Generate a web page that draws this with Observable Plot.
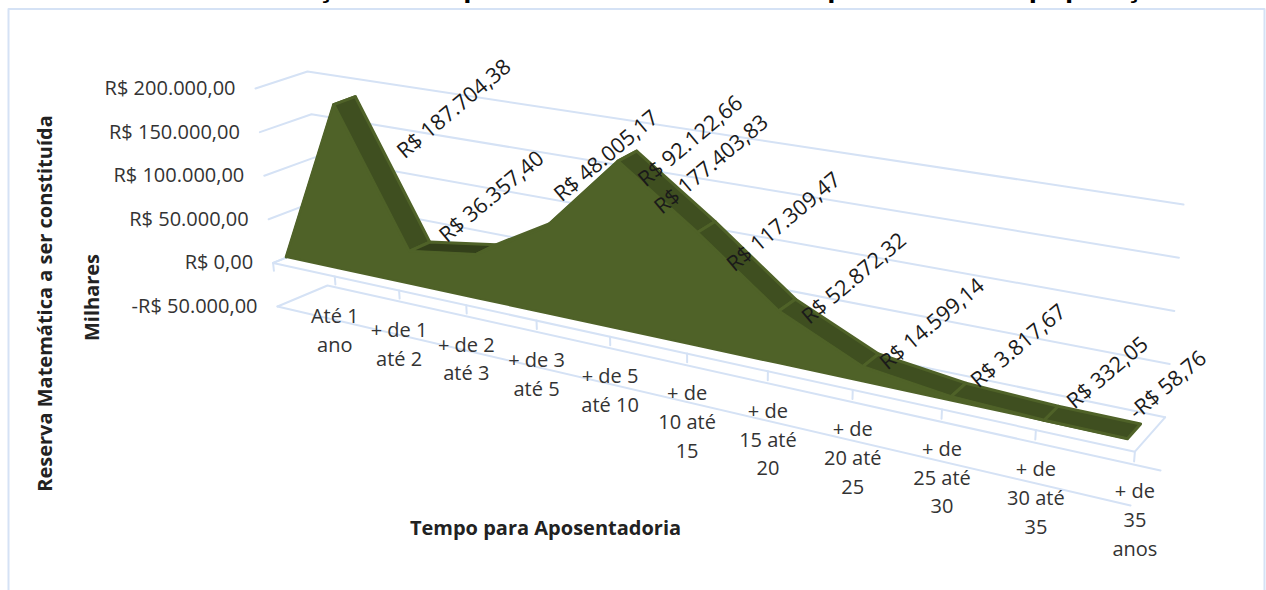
<!DOCTYPE html>
<html lang="pt-BR">
<head>
<meta charset="utf-8">
<style>html,body{margin:0;padding:0;background:#fff;overflow:hidden}svg{display:block}</style>
<script src="https://cdn.jsdelivr.net/npm/d3@7"></script>
<script src="https://cdn.jsdelivr.net/npm/@observablehq/plot@0.6"></script>
</head>
<body>
<div id="chart"></div>
<script>
const categories = ["Até 1\nano","+ de 1\naté 2","+ de 2\naté 3","+ de 3\naté 5","+ de 5\naté 10","+ de\n10 até\n15","+ de\n15 até\n20","+ de\n20 até\n25","+ de\n25 até\n30","+ de\n30 até\n35","+ de\n35\nanos"];
const reserva = [187704.38,36357.40,48005.17,92122.66,177403.83,117309.47,52872.32,14599.14,3817.67,332.05,-58.76];
const dataLabels = ["R$ 187.704,38","R$ 36.357,40","R$ 48.005,17","R$ 92.122,66","R$ 177.403,83","R$ 117.309,47","R$ 52.872,32","R$ 14.599,14","R$ 3.817,67","R$ 332,05","-R$ 58,76"];
const axisValues = [200000,150000,100000,50000,0,-50000];
const axisLabels = ["R$ 200.000,00","R$ 150.000,00","R$ 100.000,00","R$ 50.000,00","R$ 0,00","-R$ 50.000,00"];
const labelNudge = [[120,4],[82,-55],[130,-99],[145,-87],[93,3],[86,-11],[75,-33],[69,-43],[67,-51],[63,-48],[40,-54]];

// perspective box: category i (0..11), value v, depth d (0 front .. 1 back)
const corners = {
  fl:[[255,88],[277,306]], bl:[[307,71],[327,285]],
  fr:[[1152,236],[1130,505]], br:[[1183,204],[1160,470]]
};
const nCat = 11, persp = 1.298;
const lerp = (a,b,t) => a + (b-a)*t;
function project(i, v, d) {
  const s = i/nCat, t = s/(s + persp*(1-s)), u = (200000 - v)/250000;
  return [0,1].map(k => {
    const fl = lerp(corners.fl[0][k],corners.fl[1][k],u), bl = lerp(corners.bl[0][k],corners.bl[1][k],u);
    const fr = lerp(corners.fr[0][k],corners.fr[1][k],u), br = lerp(corners.br[0][k],corners.br[1][k],u);
    return lerp(lerp(fl,bl,d), lerp(fr,br,d), t);
  });
}
const pt = (i,v,d) => { const [x,y] = project(i,v,d); return {x,y}; };

const dFront = 0.27, dBack = 0.70, lastPos = 10.85;
const series = [{i:0,v:0}, ...reserva.map((v,k)=>({i:k===reserva.length-1?lastPos:k+1,v}))];

const faceColor = "#4f6228", sideColor = "#3f4f20", flatColor = "#33401a", gridColor = "#d5e2f5";

// front face of the area
const face = series.map(p => {
  const a = project(p.i,p.v,dFront), b = project(p.i,0,dFront);
  return {x1:a[0],y1:a[1],x2:b[0],y2:b[1]};
});
// top strips between the front and the back of the area
const strips = d3.pairs(series).flatMap(([p,q],k) => {
  const rising = q.v - p.v;
  const seg = k;
  const fill = rising > 20000 ? faceColor : rising > 0 ? flatColor : sideColor;
  return [p,q].map(r => {
    const a = project(r.i,r.v,dFront), b = project(r.i,r.v,dBack);
    return {seg,fill,x1:a[0],y1:a[1],x2:b[0],y2:b[1]};
  });
});

// wall and floor lines
const gridLines = axisValues.flatMap(v => [pt(0,v,0),pt(0,v,1),pt(nCat,v,1)].map(p=>({...p,key:"g"+v})));
const floorLines = [
  ...[pt(0,0,1),pt(0,0,0),pt(nCat,0,0),pt(nCat,0,1)].map(p=>({...p,key:"floor"})),
  ...[pt(0,-50000,0),pt(nCat,-50000,0)].map(p=>({...p,key:"front"}))
];
const ticks = d3.range(0,nCat+1).flatMap(i => [pt(i,0,0),pt(i,-9000,0)].map(p=>({...p,key:"t"+i})));

const catText = categories.map((c,k)=>{ const p = pt(k+1,0,0); return {x:p.x,y:p.y+26,c}; });
const axisText = axisValues.map((v,k)=>{ const p = pt(0,v,0); return {x:p.x-20,y:p.y,t:axisLabels[k]}; });
const valueText = series.slice(1).map((p,k)=>{
  const a = project(p.i,p.v,dFront);
  return {x:a[0]+labelNudge[k][0], y:a[1]+labelNudge[k][1], t:dataLabels[k]};
});

const W = 1266, H = 590, font = "'Open Sans', sans-serif";
const frame = [{x:8,y:H+5},{x:8,y:8.5},{x:1264,y:8.5},{x:1264,y:H+5}];

const chart = Plot.plot({
  width:W, height:H, margin:0,
  x:{domain:[0,W],range:[0,W],axis:null},
  y:{domain:[0,H],range:[0,H],axis:null},
  style:{background:"#fff",fontFamily:font},
  marks:[
    Plot.line(frame,{x:"x",y:"y",stroke:gridColor,strokeWidth:2}),
    Plot.text(["Gráfico 14 – Simulação da responsabilidade atuarial do plano frente à população atual"],{
      x:()=>648,y:()=>-3.5,text:d=>d,fontFamily:"'Liberation Sans',sans-serif",fontWeight:"bold",fontSize:29.5,fill:"#000",lineAnchor:"bottom"}),
    Plot.line(gridLines,{x:"x",y:"y",z:"key",stroke:gridColor,strokeWidth:2}),
    Plot.line(floorLines,{x:"x",y:"y",z:"key",stroke:gridColor,strokeWidth:2}),
    Plot.line(ticks,{x:"x",y:"y",z:"key",stroke:gridColor,strokeWidth:2}),
    Plot.area(strips,{x1:"x1",y1:"y1",x2:"x2",y2:"y2",z:"seg",fill:"fill",stroke:faceColor,strokeWidth:3,strokeLinejoin:"round"}),
    Plot.area(face,{x1:"x1",y1:"y1",x2:"x2",y2:"y2",fill:faceColor,stroke:faceColor,strokeWidth:2,strokeLinejoin:"round"}),
    Plot.text(axisText,{x:"x",y:"y",text:"t",textAnchor:"end",fontSize:20,fill:"#333"}),
    Plot.text(catText,{x:"x",y:"y",text:"c",textAnchor:"middle",lineAnchor:"top",lineHeight:1.44,fontSize:20,fill:"#333"}),
    Plot.text(valueText,{x:"x",y:"y",text:"t",rotate:-40,fontSize:21.5,fill:"#1a1a1a"}),
    Plot.text(["Reserva Matemática a ser constituída"],{x:()=>45,y:()=>303,text:d=>d,rotate:-90,fontSize:20,fontWeight:"bold",fill:"#222"}),
    Plot.text(["Milhares"],{x:()=>92,y:()=>297,text:d=>d,rotate:-90,fontSize:20,fontWeight:"bold",fill:"#222"}),
    Plot.text(["Tempo para Aposentadoria"],{x:()=>545,y:()=>528,text:d=>d,fontSize:20,fontWeight:"bold",fill:"#222"})
  ]
});
document.getElementById("chart").append(chart);
</script>
</body>
</html>
